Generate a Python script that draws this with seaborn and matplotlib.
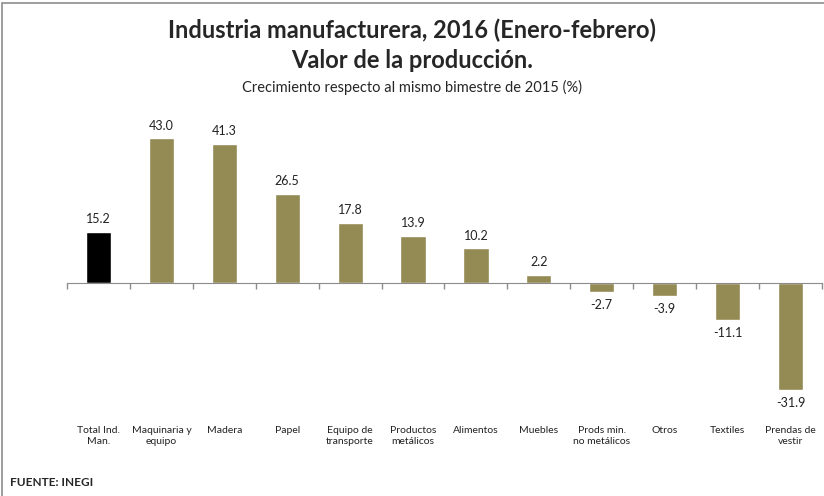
import seaborn as sns
import pandas as pd
import numpy as np
import matplotlib.pyplot as plt
from matplotlib.patches import Rectangle

sectores = ['Total Ind.\nMan.', 'Maquinaria y\nequipo', 'Madera', 'Papel',
            'Equipo de\ntransporte', 'Productos\nmetálicos', 'Alimentos', 'Muebles',
            'Prods min.\nno metálicos', 'Otros', 'Textiles', 'Prendas de\nvestir']
crecimiento = [15.2, 43.0, 41.3, 26.5, 17.8, 13.9, 10.2, 2.2, -2.7, -3.9, -11.1, -31.9]
colores = ['#000000'] + ['#948A54'] * 11

df = pd.DataFrame({'sector': sectores, 'valor': crecimiento})

sns.set_style('white')
plt.rcParams['font.family'] = ['Lato', 'DejaVu Sans']

fig = plt.figure(figsize=(8.24, 4.96), dpi=100)
ax = fig.add_axes([67/824, 96/496, 755/824, 285/496])

sns.barplot(data=df, x='sector', y='valor', hue='sector', palette=colores,
            legend=False, width=0.4, saturation=1, ax=ax)

for cont in ax.containers:
    ax.bar_label(cont, fmt='%.1f', padding=5, fontsize=9, color='#222222')

ax.set_ylim(-35, 50)
ax.set_xlim(-0.5, len(sectores) - 0.5)
ax.set_xlabel('')
ax.set_ylabel('')
ax.set_yticks([])

# eje en cero con marcas entre categorias
for s in ['top', 'left', 'right']:
    ax.spines[s].set_visible(False)
ax.spines['bottom'].set_position(('data', 0))
ax.spines['bottom'].set_color('#8c8c8c')
ax.set_xticks(np.arange(len(sectores)))
ax.set_xticklabels([])
ax.set_xticks(np.arange(len(sectores) + 1) - 0.5, minor=True)
ax.tick_params(axis='x', which='major', length=0)
ax.tick_params(axis='x', which='minor', bottom=True, length=4, width=1,
               color='#8c8c8c', direction='out')

# etiquetas abajo
sec = ax.secondary_xaxis('bottom')
sec.set_xticks(np.arange(len(sectores)), sectores)
sec.tick_params(length=0, pad=19, labelsize=7.5, labelcolor='#222222')
sec.spines['bottom'].set_visible(False)

fig.text(0.5, 1 - 30/496, 'Industria manufacturera, 2016 (Enero-febrero)',
         ha='center', va='center', fontsize=17, fontweight='bold')
fig.text(0.5, 1 - 60/496, 'Valor de la producción.',
         ha='center', va='center', fontsize=17, fontweight='bold')
fig.text(0.5, 1 - 87/496, 'Crecimiento respecto al mismo bimestre de 2015 (%)',
         ha='center', va='center', fontsize=10.5)
fig.text(10/824, 1 - 482/496, 'FUENTE: INEGI', ha='left', va='center',
         fontsize=8.5, fontweight='bold')

fig.add_artist(Rectangle((2/824, -0.1), 1.2, 1.1 - 3/496, transform=fig.transFigure,
                         fill=False, edgecolor='#8c8c8c', linewidth=1.2, clip_on=False))

fig.savefig('out.png', dpi=100)
